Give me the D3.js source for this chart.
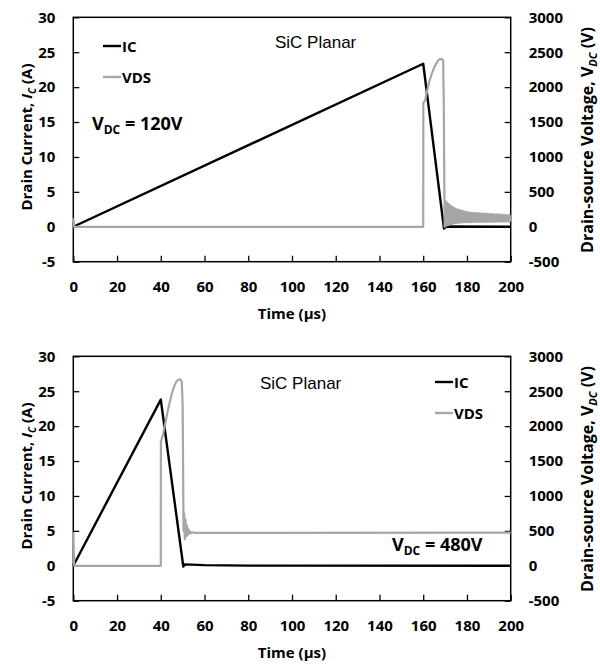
<!DOCTYPE html>
<html>
<head>
<meta charset="utf-8">
<script src="https://cdn.jsdelivr.net/npm/d3@7"></script>
<style>
  body { margin: 0; background: #fff; }
  svg { display: block; }
</style>
</head>
<body>
<div id="chart"></div>
<script>
// time axis and tick values
const timeTicks = [0, 20, 40, 60, 80, 100, 120, 140, 160, 180, 200];
const currentTicks = [-5, 0, 5, 10, 15, 20, 25, 30];
const voltageTicks = [-500, 0, 500, 1000, 1500, 2000, 2500, 3000];

// top panel, VDC = 120 V  ([time us, value])
const topIC = [[0, 0], [160, 23.35], [169.5, -0.25], [170.5, 0.05], [200, 0]];
const topVDS = [[0, 125], [0.4, 0], [160, 0], [160.05, 1780], [160.8, 1800], [161.8, 1950],
  [162.8, 2080], [163.9, 2190], [165, 2280], [166.2, 2354], [167.2, 2395], [168.4, 2405],
  [169.1, 2380], [169.4, 1800], [169.6, 800], [169.8, 0],
  [170.2, 370], [170.6, 15], [171.0, 345], [171.4, 25], [171.8, 320], [172.2, 35],
  [172.6, 300], [173.0, 42], [173.4, 282], [173.8, 48], [174.2, 268], [174.6, 52],
  [175.0, 256], [175.4, 56], [175.8, 246], [176.2, 59], [176.6, 238], [177.0, 61],
  [177.4, 231], [177.8, 63], [178.2, 225], [178.6, 65], [179.0, 218], [179.4, 66],
  [179.8, 212], [180.0, 67], [180.5, 205], [181.0, 67], [181.5, 202], [182.0, 68],
  [182.5, 200], [183.0, 68], [183.5, 197], [184.0, 69], [184.5, 195], [185.0, 69],
  [185.5, 193], [186.0, 70], [186.5, 191], [187.0, 70], [187.5, 189], [188.0, 71],
  [188.5, 187], [189.0, 71], [189.5, 185], [190.0, 72], [190.5, 183], [191.0, 72],
  [191.5, 181], [192.0, 72], [192.5, 179], [193.0, 73], [193.5, 177], [194.0, 73],
  [194.5, 175], [195.0, 73], [195.5, 173], [196.0, 74], [196.5, 171], [197.0, 74],
  [197.5, 169], [198.0, 74], [198.5, 167], [199.0, 75], [199.5, 165], [200.0, 75]];

// bottom panel, VDC = 480 V
const botIC = [[0, 0], [40, 23.8], [50.3, -0.1], [51, 0.2], [60, 0.1], [80, 0.02], [200, 0]];
const botVDS = [[0, 480], [0.4, 0], [40, 0], [40.05, 1776], [41, 1880], [42, 2030],
  [43, 2190], [44, 2330], [45, 2460], [46, 2560], [47, 2630], [48, 2665], [48.8, 2672],
  [49.6, 2640], [50, 2300], [50.2, 1400], [50.4, 500], [50.7, 750], [51.0, 380],
  [51.3, 660], [51.6, 420], [51.9, 580], [52.2, 440], [52.5, 530], [52.8, 455],
  [53.2, 500], [53.7, 465], [54.5, 480], [55.5, 472], [200, 475]];

const W = 600, H = 664;
const plot = { left: 73.3, right: 510.7, top: 17.3, height: 244.4 };
const black = "#000", grey = "#a6a6a6";
const boldFont = "'Open Sans', sans-serif";

const svg = d3.select("#chart").append("svg")
  .attr("width", W)
  .attr("height", H);

const x = d3.scaleLinear().domain([0, 200]).range([plot.left, plot.right]);
const yL = d3.scaleLinear().domain([-5, 30]).range([plot.top + plot.height, plot.top]);
const yR = d3.scaleLinear().domain([-500, 3000]).range([plot.top + plot.height, plot.top]);

const icLine = d3.line().x(d => x(d[0])).y(d => yL(d[1]));
const vdsLine = d3.line().x(d => x(d[0])).y(d => yR(d[1]));

function drawPanel(offsetY, ic, vds, vdc, planarPos, legendPos, vdcPos) {
  const g = svg.append("g").attr("transform", "translate(0," + offsetY + ")");
  const bottom = plot.top + plot.height;

  // axes
  const xa = g.append("g")
    .attr("transform", "translate(0," + bottom + ")")
    .call(d3.axisBottom(x).tickValues(timeTicks).tickSize(-6).tickSizeOuter(0)
      .tickPadding(20).tickFormat(d => String(d)));
  const la = g.append("g")
    .attr("transform", "translate(" + plot.left + ",0)")
    .call(d3.axisLeft(yL).tickValues(currentTicks).tickSize(-6).tickSizeOuter(0)
      .tickPadding(18).tickFormat(d => String(d)));
  const ra = g.append("g")
    .attr("transform", "translate(" + plot.right + ",0)")
    .call(d3.axisRight(yR).tickValues(voltageTicks).tickSize(-6).tickSizeOuter(0)
      .tickPadding(18).tickFormat(d => String(d)));
  [xa, la, ra].forEach(a => {
    a.select(".domain").remove();
    a.selectAll(".tick line").attr("stroke", black).attr("stroke-width", 1.3);
    a.selectAll("text")
      .style("font-family", boldFont)
      .style("font-weight", "bold")
      .style("font-size", "15px")
      .attr("fill", black);
  });

  // plot frame
  g.append("rect")
    .attr("x", plot.left)
    .attr("y", plot.top)
    .attr("width", plot.right - plot.left)
    .attr("height", plot.height)
    .attr("fill", "none")
    .attr("stroke", black)
    .attr("stroke-width", 1.5);

  g.append("path")
    .datum(ic)
    .attr("fill", "none")
    .attr("stroke", black)
    .attr("stroke-width", 2.4)
    .attr("stroke-linejoin", "round")
    .attr("d", icLine);

  g.append("path")
    .datum(vds)
    .attr("fill", "none")
    .attr("stroke", grey)
    .attr("stroke-width", 2.2)
    .attr("stroke-linejoin", "round")
    .attr("d", vdsLine);

  // axis titles
  g.append("text")
    .attr("x", (plot.left + plot.right) / 2)
    .attr("y", bottom + 57)
    .attr("text-anchor", "middle")
    .style("font-family", boldFont)
    .style("font-weight", "bold")
    .style("font-size", "15px")
    .text("Time (µs)");

  const lt = g.append("text")
    .attr("transform", "translate(32," + 137 + ") rotate(-90)")
    .attr("text-anchor", "middle")
    .style("font-family", boldFont)
    .style("font-weight", "bold")
    .style("font-size", "15px");
  lt.append("tspan").text("Drain Current, ");
  lt.append("tspan").style("font-style", "italic").text("I");
  lt.append("tspan").style("font-style", "italic").style("font-size", "10px")
    .attr("dy", 4).text("C");
  lt.append("tspan").attr("dy", -4).text(" (A)");

  const rt = g.append("text")
    .attr("transform", "translate(593," + 140 + ") rotate(-90)")
    .attr("text-anchor", "middle")
    .style("font-family", boldFont)
    .style("font-weight", "bold")
    .style("font-size", "16px");
  rt.append("tspan").text("Drain-source Voltage, V");
  rt.append("tspan").style("font-style", "italic").style("font-size", "11px")
    .attr("dy", 4).text("DC");
  rt.append("tspan").attr("dy", -4).text(" (V)");

  // SiC Planar label
  g.append("text")
    .attr("x", planarPos[0])
    .attr("y", planarPos[1])
    .style("font-family", "'Liberation Sans', Arial, sans-serif")
    .style("font-size", "17px")
    .text("SiC Planar");

  // legend
  const items = [["IC", black], ["VDS", grey]];
  items.forEach((it, i) => {
    const ly = legendPos[1] + i * 31;
    g.append("line")
      .attr("x1", legendPos[0]).attr("x2", legendPos[0] + 18)
      .attr("y1", ly).attr("y2", ly)
      .attr("stroke", it[1]).attr("stroke-width", 2.4);
    g.append("text")
      .attr("x", legendPos[0] + 19)
      .attr("y", ly + 5.5)
      .style("font-family", boldFont)
      .style("font-weight", "bold")
      .style("font-size", "15px")
      .text(it[0]);
  });

  // VDC annotation
  const vt = g.append("text")
    .attr("x", vdcPos[0])
    .attr("y", vdcPos[1])
    .style("font-family", boldFont)
    .style("font-weight", "bold")
    .style("font-size", "18px");
  vt.append("tspan").text("V");
  vt.append("tspan").style("font-size", "12px").attr("dy", 4).text("DC");
  vt.append("tspan").attr("dy", -4).text(" = " + vdc + "V");
}

drawPanel(0, topIC, topVDS, 120, [275, 48], [103, 46], [92, 130]);
drawPanel(339, botIC, botVDS, 480, [260, 50], [435, 43], [392, 212]);
</script>
</body>
</html>
